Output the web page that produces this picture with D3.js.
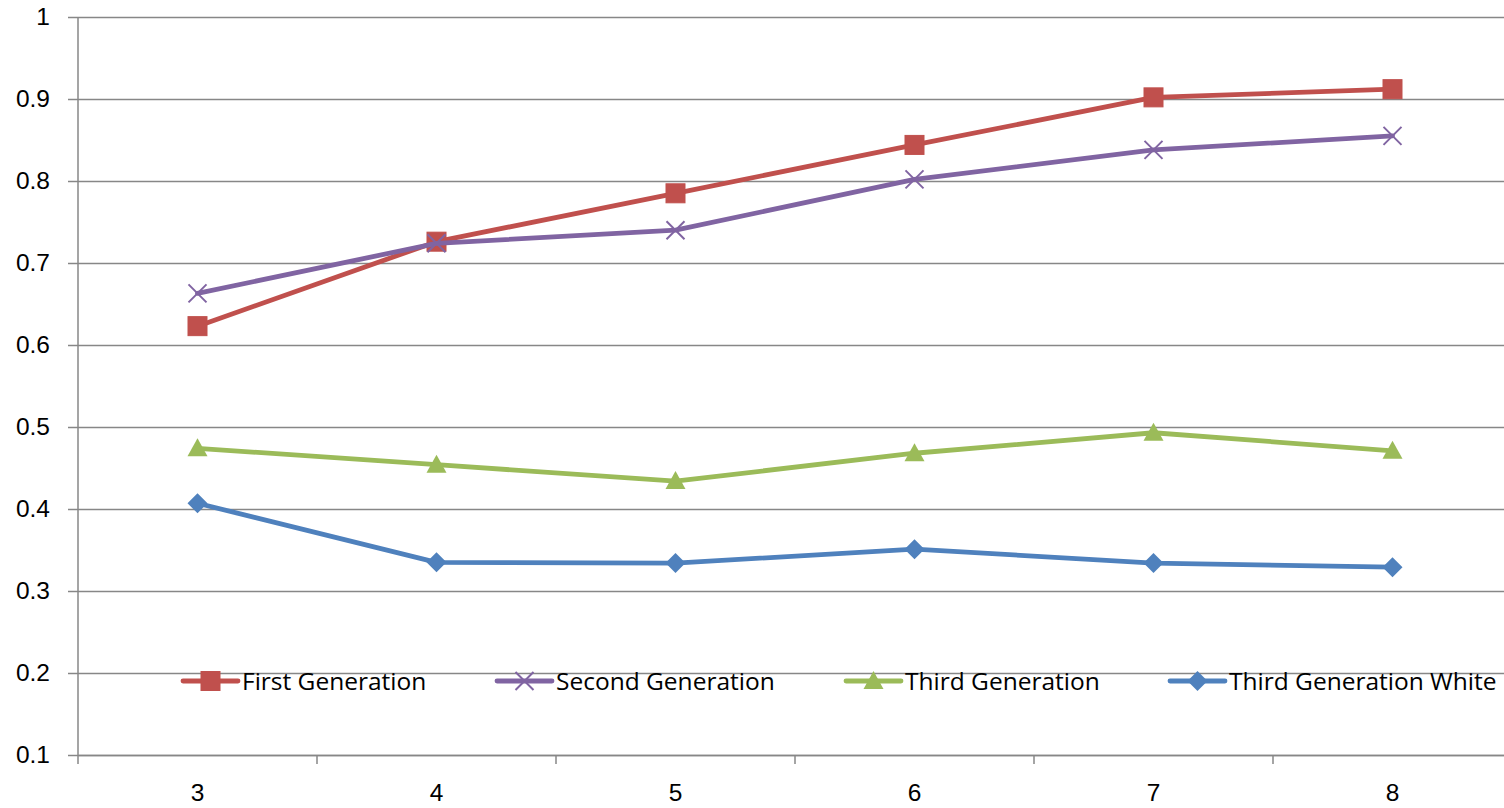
<!DOCTYPE html>
<html>
<head>
<meta charset="utf-8">
<script src="https://cdn.jsdelivr.net/npm/d3@7"></script>
<style>
  html, body { margin: 0; padding: 0; background: #fff; }
  svg { display: block; font-family: "Open Sans", "Noto Sans", sans-serif; }
</style>
</head>
<body>
<svg id="chart" width="1504" height="808"></svg>
<script>
// Categories along the x axis
const categories = ["3", "4", "5", "6", "7", "8"];

// Series values
const firstGeneration  = [0.623, 0.726, 0.785, 0.844, 0.902, 0.912];
const secondGeneration = [0.663, 0.724, 0.740, 0.802, 0.838, 0.855];
const thirdGeneration  = [0.474, 0.454, 0.434, 0.468, 0.493, 0.471];
const thirdGenWhite    = [0.407, 0.335, 0.334, 0.351, 0.334, 0.329];

// Y axis ticks
const yTicks = [0.1, 0.2, 0.3, 0.4, 0.5, 0.6, 0.7, 0.8, 0.9, 1];

const series = [
  { name: "First Generation", values: firstGeneration, color: "#C0504D", marker: "square" },
  { name: "Second Generation", values: secondGeneration, color: "#8064A2", marker: "cross" },
  { name: "Third Generation", values: thirdGeneration, color: "#9BBB59", marker: "triangle" },
  { name: "Third Generation White", values: thirdGenWhite, color: "#4F81BD", marker: "diamond" }
];

const svg = d3.select("#chart");
const plotLeft = 78, plotRight = 1512, plotTop = 17, plotBottom = 755;
const fontSize = 24.5;

const x = d3.scaleBand().domain(categories).range([plotLeft, plotRight]).padding(0);
const y = d3.scaleLinear().domain([0.1, 1]).range([plotBottom, plotTop]);
const cx = c => x(c) + x.bandwidth() / 2;

const gridColor = "#878787";

// Horizontal gridlines with outward ticks on the value axis
const yAxis = d3.axisLeft(y).tickValues(yTicks).tickSize(-(plotRight - plotLeft))
  .tickFormat(d => d === 1 ? "1" : d3.format(".1f")(d));
const gy = svg.append("g").attr("transform", `translate(${plotLeft},0)`).call(yAxis);
gy.select(".domain").remove();
gy.selectAll(".tick line").attr("stroke", gridColor).attr("stroke-width", 1.5).attr("x1", -10);
gy.selectAll(".tick text").attr("font-size", fontSize).attr("fill", "#000").attr("x", -28);

// Vertical value axis line
svg.append("line").attr("x1", plotLeft).attr("x2", plotLeft).attr("y1", plotTop).attr("y2", plotBottom + 9)
  .attr("stroke", gridColor).attr("stroke-width", 1.5);

// Category axis with ticks between categories
const xAxis = d3.axisBottom(x).tickSize(0).tickPadding(29);
const gx = svg.append("g").attr("transform", `translate(0,${plotBottom})`).call(xAxis);
gx.select(".domain").attr("stroke", gridColor).attr("stroke-width", 1.5);
gx.selectAll(".tick text").attr("font-size", fontSize).attr("fill", "#000");
gx.selectAll(".sep").data(categories.slice(1)).enter().append("line")
  .attr("class", "sep")
  .attr("x1", d => x(d)).attr("x2", d => x(d))
  .attr("y1", 0).attr("y2", 9)
  .attr("stroke", gridColor).attr("stroke-width", 1.5);

// Marker drawing
function drawMarker(g, type, color) {
  if (type === "square") {
    g.append("rect").attr("x", -9.5).attr("y", -9.5).attr("width", 19).attr("height", 19)
      .attr("fill", color).attr("stroke", color).attr("stroke-width", 1);
  } else if (type === "cross") {
    g.append("path").attr("d", "M-9,-9L9,9M-9,9L9,-9")
      .attr("stroke", color).attr("stroke-width", 2).attr("fill", "none");
  } else if (type === "triangle") {
    g.append("path").attr("d", "M0,-10L10,8L-10,8Z").attr("fill", color);
  } else if (type === "diamond") {
    g.append("path").attr("d", "M0,-10L10,0L0,10L-10,0Z").attr("fill", color);
  }
}

const line = d3.line().x((d, i) => cx(categories[i])).y(d => y(d));

series.forEach(s => {
  svg.append("path").datum(s.values)
    .attr("d", line)
    .attr("fill", "none")
    .attr("stroke", s.color)
    .attr("stroke-width", 4.8)
    .attr("stroke-linejoin", "round")
    .attr("stroke-linecap", "round");
  s.values.forEach((v, i) => {
    const g = svg.append("g").attr("transform", `translate(${cx(categories[i])},${y(v)})`);
    drawMarker(g, s.marker, s.color);
  });
});

// Legend, laid across the lower part of the plot
const legendX = [183, 497, 846, 1170];
const legendY = 681;
series.forEach((s, i) => {
  const g = svg.append("g").attr("transform", `translate(${legendX[i]},${legendY})`);
  g.append("line").attr("x1", 0).attr("x2", 55).attr("y1", 0).attr("y2", 0)
    .attr("stroke", s.color).attr("stroke-width", 4.8).attr("stroke-linecap", "round");
  const m = g.append("g").attr("transform", "translate(27.5,0)");
  drawMarker(m, s.marker, s.color);
  g.append("text").attr("x", 59).attr("y", 0).attr("dy", "0.35em")
    .attr("font-size", fontSize).attr("fill", "#000").text(s.name);
});
</script>
</body>
</html>
